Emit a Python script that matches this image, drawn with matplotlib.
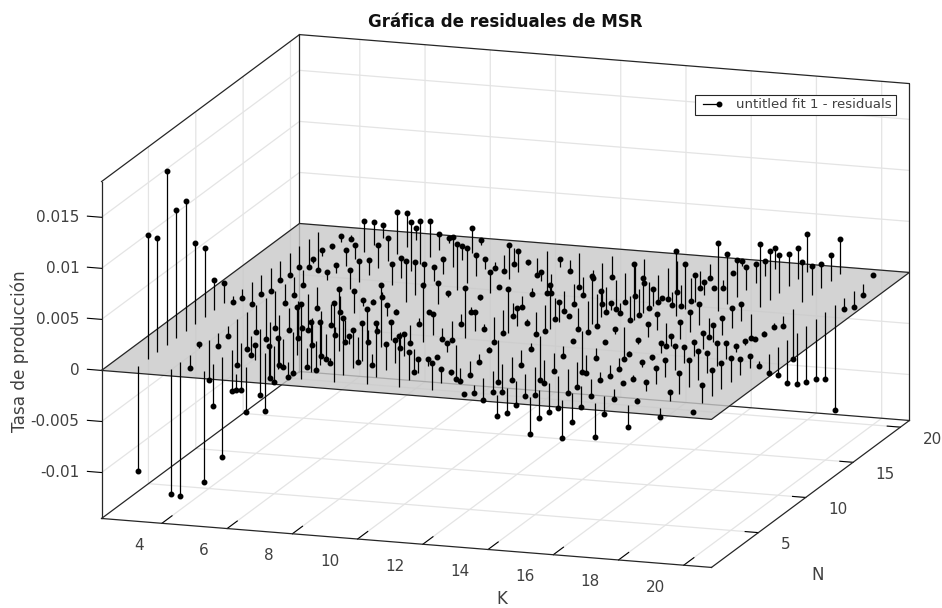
import numpy as np
import matplotlib
matplotlib.use("Agg")
import matplotlib.pyplot as plt
from matplotlib.legend_handler import HandlerLine2D
from matplotlib.lines import Line2D
from matplotlib.transforms import Affine2D
from mpl_toolkits.mplot3d import proj3d

# Grid of the fit
K = [3, 4, 5, 6, 7, 8, 9, 10, 11, 12, 13, 14, 15, 16, 17, 18, 19, 20]
N = [1, 2, 3, 4, 5, 6, 7, 8, 9, 10, 11, 12, 13, 14, 15, 16, 17, 18, 19, 20]

# Residuals, one list per K
res_k3 = [-.01025, .01215, .01114, .01703, .01253, .0127, .0079, .00669, .00294, .0019, -.00058, -.00096, -.00217, -.00186, -.00232, -.00192, -.00214, -.00198, -.00272, -.00367]
res_k4 = [-.01231, -.01312, -.00132, .00039, -.00389, -.0012, -.0009, -.00442, -.00357, -.00262, -.00395, -.00355, -.00181, -.00175, -.00145, .00039, .00056, .00033, .00061, -.00037]
res_k5 = [-.01084, -.00411, -.00979, -.00405, -.00458, -.00183, -.00644, -.00549, -.00493, -.00212, -.0036, -.0035, -.00212, .00078, .00078, .0015, .00137, .00297, .0022, .00121]
res_k6 = [-.00154, -.00441, .00144, -.0057, -.0036, -.00275, -.00409, -.00033, -.00271, -.00448, -.00212, -.0015, .00193, .00206, .00147, .00232, .00229, .00412, .00333, .00124]
res_k7 = [.00297, .00304, -.00144, .00477, -.0018, -.00281, -.00242, -.0008, -.00212, .00219, .00065, -.00026, -.00046, .00209, .00196, .00477, .00418, .0035, .00154, .00046]
res_k8 = [.00735, .00493, .00425, -.00052, .00604, .00082, -.00248, -.00121, -.00082, .00105, -.00036, .00399, .00324, .00233, .00132, .00144, .00291, .00137, .00244, .00054]
res_k9 = [.00774, .00552, .00366, .00366, -.00108, .00607, .0017, -.0015, -.00173, -.00051, -.00004, .00212, .00039, .00454, .00344, .00212, .00101, -.00056, -.00156, -.00158]
res_k10 = [.00742, .00533, .00258, .00225, .00222, -.00219, .00555, .00203, -.00105, -.00183, -.00101, -.00053, .00026, .00209, -.00013, .00335, .00203, .00026, -.00173, -.00418]
res_k11 = [.00497, .00277, .00134, .00066, .0002, .00082, -.00335, .0049, .00183, -.00049, -.00248, -.00227, -.00131, -.00114, -.00052, .00088, -.00186, .00085, -.00105, -.00327]
res_k12 = [.00261, .00128, .00038, -.00127, -.00131, -.00078, -.00025, -.00409, .00437, .00183, -.00036, -.00216, -.00252, -.00206, -.0019, -.00193, -.00173, -.00078, -.00405, -.00203]
res_k13 = [-.00016, -.00075, -.00217, -.00209, -.00271, -.00225, -.00144, -.00059, -.00429, .00428, .00196, -.00013, -.00203, -.00302, -.00314, -.00252, -.00288, -.00289, -.00302, -.00235]
res_k14 = [-.00209, -.00245, -.00239, -.00217, -.00275, -.00232, -.00183, -.00098, -.00024, -.00395, .00477, .00261, .00075, -.00092, -.00235, -.00248, -.00252, -.00265, -.00299, -.00301]
res_k15 = [-.00357, -.00275, -.00278, -.00312, -.00237, -.00239, -.00176, -.00094, -.00008, .00055, -.00317, .00549, .00346, .00163, .00008, -.00125, -.00203, -.00229, -.00165, -.00135]
res_k16 = [-.00376, -.00281, -.00206, -.00167, -.00082, -.00114, -.00108, -.00036, .00039, .00122, .00154, -.00229, .00635, .00438, .00261, .00127, 0.0, -.00072, 0.0, .00052]
res_k17 = [-.00337, -.00178, -.00105, -.0001, -.00046, .00051, .00038, .00101, .00098, .0017, .00201, .00209, -.00186, .00673, .00493, .0036, .00229, .00183, .00147, .00209]
res_k18 = [-.00216, -.00023, .00094, .00157, .00167, .00239, .00162, .00137, .00157, .00163, .0017, .00193, .00166, -.00239, .00618, .00474, .00365, .00307, .00304, .00366]
res_k19 = [-.0009, .0009, .00208, .00261, .00278, .0019, .00221, .00154, .00052, .00036, -.0001, -.00034, -.0003, -.00091, -.00487, .00392, .00283, .00234, .00255, .0035]
res_k20 = [-.00013, .0018, .00257, .00263, .00238, .0016, .00124, -.00051, -.00184, -.00275, -.00418, -.005, -.00544, -.00583, -.00651, -.01033, -.00108, -.00156, -.00112, .00016]

# Axis settings
K_LIM = (2.15, 20.85)
N_LIM = (0.05, 20.95)
Z_LIM = (-0.0145, 0.0185)
K_TICKS = [4, 6, 8, 10, 12, 14, 16, 18, 20]
N_TICKS = [5, 10, 15, 20]
Z_TICKS = [-0.01, -0.005, 0, 0.005, 0.01, 0.015]
Z_LABELS = ["-0.01", "-0.005", "0", "0.005", "0.01", "0.015"]

TEXT_COLOR = "#404040"
BOX_COLOR = "#262626"


# Legend entry with the marker only at the right end of the line
class EndMarker(HandlerLine2D):
    def create_artists(self, *args, **kwargs):
        artists = super().create_artists(*args, **kwargs)
        for a in artists:
            a.set_markevery([1])
        return artists


res = np.array([res_k3, res_k4, res_k5, res_k6, res_k7, res_k8, res_k9, res_k10, res_k11,
                res_k12, res_k13, res_k14, res_k15, res_k16, res_k17, res_k18, res_k19, res_k20])
kk, nn = np.meshgrid(K, N, indexing="ij")

fig = plt.figure(figsize=(9.42, 6.08), dpi=100)
W, H = 942.0, 608.0
SIDE = 938.4
ax = fig.add_axes([23.6 / W, -174.9 / H, SIDE / W, SIDE / H], projection="3d", proj_type="ortho")
ax.view_init(elev=14.13, azim=-71.8)
ax.set_box_aspect((642, 633.6, 347.4))
ax.computed_zorder = False
ax.patch.set_alpha(0)

ax.set_xlim(*K_LIM, view_margin=0)
ax.set_ylim(*N_LIM, view_margin=0)
ax.set_zlim(*Z_LIM, view_margin=0)

# Walls and grid
for axis, tick_len in ((ax.xaxis, 0.64), (ax.yaxis, 0.27), (ax.zaxis, 0.29)):
    axis.set_pane_color((1, 1, 1, 1))
    axis.pane.set_edgecolor("none")
    axis.line.set_color((0, 0, 0, 0))
    axis._axinfo["grid"].update(color="#e4e4e4", linewidth=0.9)
    axis._axinfo["tick"].update(inward_factor=0.0, outward_factor=tick_len)
    axis._axinfo["tick"]["linewidth"] = {True: 0.8, False: 0.8}
    axis._axinfo["tick"]["color"] = BOX_COLOR

ax.set_xticks(K_TICKS)
ax.set_yticks(N_TICKS)
ax.set_zticks(Z_TICKS)
ax.zaxis.set_ticks_position("lower")
ax.zaxis._get_tickdir = lambda pos: 0  # z ticks run along K, like the original
for axis in (ax.xaxis, ax.yaxis, ax.zaxis):
    axis.set_tick_params(label1On=False, label2On=False)

x0, x1 = K_LIM
y0, y1 = N_LIM
z0, z1 = Z_LIM


# Tick labels placed from the projected tick position, shifted in pixels
def tick_label(x, y, z, label, dx, dy, ha):
    px2, py2, _ = proj3d.proj_transform(x, y, z, ax.get_proj())
    ax.text2D(px2, py2, label, transform=ax.transData + Affine2D().translate(dx, dy),
              ha=ha, va="center", fontsize=11, color=TEXT_COLOR)


for k in K_TICKS:
    tick_label(k, y0, z0, str(k), -18.5, -22, "right")
for n in N_TICKS:
    tick_label(x1, n, z0, str(n), 22.5, -12, "left")
for z, label in zip(Z_TICKS, Z_LABELS):
    tick_label(x0, y0, z, label, -22, 0, "right")

# Box edges
edges = [
    ((x0, x1), (y0, y0), (z0, z0)),
    ((x1, x1), (y0, y1), (z0, z0)),
    ((x0, x0), (y0, y1), (z0, z0)),
    ((x0, x1), (y1, y1), (z0, z0)),
    ((x0, x0), (y0, y0), (z0, z1)),
    ((x0, x0), (y1, y1), (z0, z1)),
    ((x1, x1), (y1, y1), (z0, z1)),
    ((x0, x0), (y0, y1), (z1, z1)),
    ((x0, x1), (y1, y1), (z1, z1)),
]
for ex, ey, ez in edges:
    ax.plot(ex, ey, ez, color=BOX_COLOR, lw=0.9, zorder=1)

# Zero plane
px, py = np.meshgrid(K_LIM, N_LIM, indexing="ij")
ax.plot_surface(px, py, np.zeros_like(px), color="#c8c8c8", alpha=0.8, shade=False,
                linewidth=0, zorder=2)
ax.plot([x0, x1, x1, x0, x0], [y0, y0, y1, y1, y0], [0, 0, 0, 0, 0],
        color=BOX_COLOR, lw=0.9, zorder=3)

# Residual stems
markerline, stemlines, baseline = ax.stem(kk.ravel(), nn.ravel(), res.ravel(), bottom=0,
                                          linefmt="k-", markerfmt="k.", basefmt=" ")
stemlines.set_linewidth(0.9)
stemlines.set_zorder(4)
markerline.set_markersize(6.5)
markerline.set_zorder(5)
baseline.set_visible(False)

handle = Line2D([0, 1], [0, 0], color="k", lw=0.9, marker=".", markersize=6.5)
leg = fig.legend([handle], ["untitled fit 1 - residuals"], loc="upper right",
                 bbox_to_anchor=(895.5 / W, 1 - 94.5 / H), fontsize=9.5, numpoints=2,
                 handler_map={handle: EndMarker(numpoints=2)},
                 fancybox=False, framealpha=1, edgecolor=BOX_COLOR, borderpad=0.3,
                 handlelength=1.8, handletextpad=1.0, borderaxespad=0)
leg.get_frame().set_linewidth(0.8)
for t in leg.get_texts():
    t.set_color(TEXT_COLOR)

fig.text(505.5 / W, 1 - 22 / H, "Gráfica de residuales de MSR", ha="center", va="center",
         fontsize=12, fontweight="bold", color="#111111")
fig.text(20 / W, 1 - 351 / H, "Tasa de producción", rotation=90, ha="center", va="center",
         fontsize=12.2, color=TEXT_COLOR)
fig.text(502 / W, 1 - 599 / H, "K", ha="center", va="center", fontsize=12, color=TEXT_COLOR)
fig.text(818 / W, 1 - 575 / H, "N", ha="center", va="center", fontsize=12, color=TEXT_COLOR)

fig.savefig("out.png", dpi=100)
